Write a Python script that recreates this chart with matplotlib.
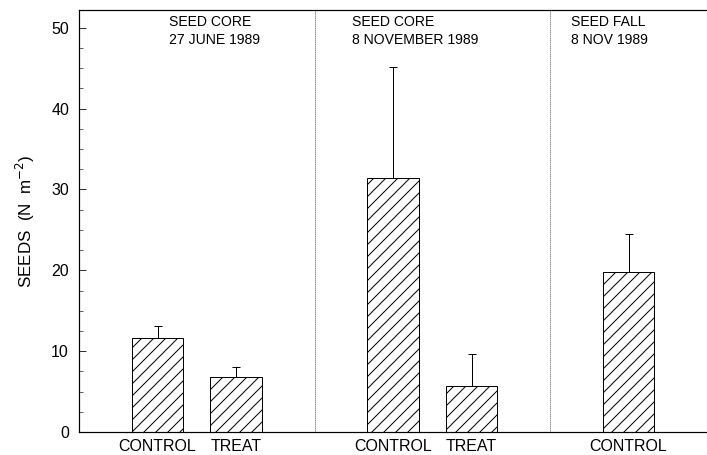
import matplotlib.pyplot as plt
from matplotlib.ticker import MultipleLocator

plt.rcParams["font.family"] = ["Liberation Sans", "DejaVu Sans"]
plt.rcParams["hatch.linewidth"] = 1.0

# data
positions = [1, 2, 4, 5, 7]
tick_labels = ["CONTROL", "TREAT", "CONTROL", "TREAT", "CONTROL"]
means = [11.6, 6.8, 31.4, 5.7, 19.8]
upper_err = [1.5, 1.2, 13.7, 4.0, 4.7]
dividers = [3, 6]
panel_x = [1.15, 3.48, 6.27]
panel_titles = ["SEED CORE\n27 JUNE 1989", "SEED CORE\n8 NOVEMBER 1989", "SEED FALL\n8 NOV 1989"]

DPI = 72
fig = plt.figure(figsize=(707 / DPI, 455 / DPI), dpi=DPI)
ax = fig.add_axes([79 / 707, 1 - 432 / 455, 628 / 707, 422 / 455])

ax.bar(positions, means, width=0.66, color="white", edgecolor="black",
       hatch="//", linewidth=1.0, zorder=2)
ax.errorbar(positions, means, yerr=[[0] * len(means), upper_err], fmt="none",
            ecolor="black", elinewidth=1.0, capsize=4, capthick=1.0, zorder=3)

for d in dividers:
    ax.axvline(d, color="black", linestyle=(0, (1, 1.5)), linewidth=0.8, zorder=1)

for x, t in zip(panel_x, panel_titles):
    ax.text(x, 51.6, t, ha="left", va="top", fontsize=14, linespacing=1.35)

ax.set_xlim(0, 8)
ax.set_ylim(0, 52.2)
ax.set_xticks(positions)
ax.set_xticklabels(tick_labels, fontsize=16)
ax.tick_params(axis="x", length=0, pad=7)
ax.yaxis.set_major_locator(MultipleLocator(10))
ax.yaxis.set_minor_locator(MultipleLocator(2.5))
ax.tick_params(axis="y", which="major", direction="in", length=7, labelsize=16, pad=10)
ax.tick_params(axis="y", which="minor", direction="in", length=4)
ax.set_ylabel("SEEDS  (N  m$^{-2}$)", fontsize=17, labelpad=14)
ax.spines["right"].set_visible(False)
for s in ["left", "bottom", "top"]:
    ax.spines[s].set_linewidth(1.2)

fig.savefig("out.png", dpi=DPI)
